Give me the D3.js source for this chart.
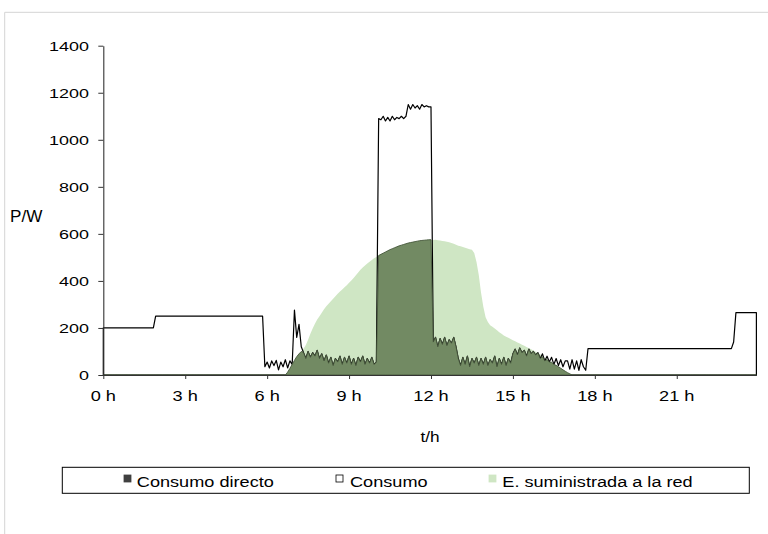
<!DOCTYPE html>
<html>
<head>
<meta charset="utf-8">
<script src="https://cdn.jsdelivr.net/npm/d3@7"></script>
<style>
  body { margin: 0; background: #fff; }
  svg { display: block; font-family: "Liberation Sans", Arial, sans-serif; }
</style>
</head>
<body>
<div id="chart"></div>
<script>
// 5-minute readings, one row per hour (12 values each)
const consumo = [
  200,200,200,200,200,200,200,200,200,200,200,200,
  200,200,200,200,200,200,200,200,200,200,200,250,
  250,250,250,250,250,250,250,250,250,250,250,250,
  250,250,250,250,250,250,250,250,250,250,250,250,
  250,250,250,250,250,250,250,250,250,250,250,250,
  250,250,250,250,250,250,250,250,250,250,250,35,
  55,30,60,40,62,22,55,35,65,30,60,45,
  276,160,215,120,95,70,100,75,95,80,105,70,
  90,60,85,50,75,40,70,55,80,45,75,50,
  80,45,70,40,75,55,80,45,70,50,75,45,
  55,1090,1085,1100,1080,1095,1080,1100,1085,1095,1090,1100,
  1090,1100,1150,1130,1150,1135,1145,1130,1150,1140,1145,1140,
  1140,140,160,120,155,130,160,125,150,135,160,120,
  70,40,75,45,80,35,70,50,75,40,70,45,
  75,40,65,50,80,35,70,45,75,40,70,50,
  90,110,85,115,95,105,80,110,90,100,85,95,
  70,90,60,80,55,75,45,70,40,65,35,60,
  60,25,65,25,60,20,65,35,20,112,112,112,
  112,112,112,112,112,112,112,112,112,112,112,112,
  112,112,112,112,112,112,112,112,112,112,112,112,
  112,112,112,112,112,112,112,112,112,112,112,112,
  112,112,112,112,112,112,112,112,112,112,112,112,
  112,112,112,112,112,112,112,112,112,112,112,112,
  112,140,265,265,265,265,265,265,265,265,265,265
];

const consumoDirecto = [
  0,0,0,0,0,0,0,0,0,0,0,0,
  0,0,0,0,0,0,0,0,0,0,0,0,
  0,0,0,0,0,0,0,0,0,0,0,0,
  0,0,0,0,0,0,0,0,0,0,0,0,
  0,0,0,0,0,0,0,0,0,0,0,0,
  0,0,0,0,0,0,0,0,0,0,0,0,
  0,0,0,0,0,0,0,0,0,12,28,45,
  62,78,90,100,95,70,100,75,95,80,105,70,
  90,60,85,50,75,40,70,55,80,45,75,50,
  80,45,70,40,75,55,80,45,70,50,75,45,
  55,508,513,518,523,528,533,537,541,545,549,552,
  555,558,561,563,565,567,569,571,572,573,574,575,
  575,140,160,120,155,130,160,125,150,135,160,120,
  70,40,75,45,80,35,70,50,75,40,70,45,
  75,40,65,50,80,35,70,45,75,40,70,50,
  90,110,85,115,95,105,80,110,90,100,85,94,
  70,78,60,66,55,54,45,41,35,29,22,16,
  10,5,0,0,0,0,0,0,0,0,0,0,
  0,0,0,0,0,0,0,0,0,0,0,0,
  0,0,0,0,0,0,0,0,0,0,0,0,
  0,0,0,0,0,0,0,0,0,0,0,0,
  0,0,0,0,0,0,0,0,0,0,0,0,
  0,0,0,0,0,0,0,0,0,0,0,0,
  0,0,0,0,0,0,0,0,0,0,0,0
];

const suministradaRed = [
  0,0,0,0,0,0,0,0,0,0,0,0,
  0,0,0,0,0,0,0,0,0,0,0,0,
  0,0,0,0,0,0,0,0,0,0,0,0,
  0,0,0,0,0,0,0,0,0,0,0,0,
  0,0,0,0,0,0,0,0,0,0,0,0,
  0,0,0,0,0,0,0,0,0,0,0,0,
  0,0,0,0,0,0,0,0,0,12,28,45,
  62,78,90,100,112,128,150,175,198,218,236,250,
  265,280,292,303,314,324,335,345,355,364,373,382,
  392,402,412,424,436,447,457,466,474,482,489,496,
  502,508,513,518,523,528,533,537,541,545,549,552,
  555,558,561,563,565,567,569,571,572,573,574,575,
  575,574,575,573,572,570,569,567,564,561,558,554,
  550,547,544,541,538,535,532,519,480,425,350,290,
  245,225,212,205,198,190,182,175,168,163,158,153,
  148,143,138,134,129,124,119,114,109,104,99,94,
  88,78,72,66,60,54,47,41,35,29,22,16,
  10,5,0,0,0,0,0,0,0,0,0,0,
  0,0,0,0,0,0,0,0,0,0,0,0,
  0,0,0,0,0,0,0,0,0,0,0,0,
  0,0,0,0,0,0,0,0,0,0,0,0,
  0,0,0,0,0,0,0,0,0,0,0,0,
  0,0,0,0,0,0,0,0,0,0,0,0,
  0,0,0,0,0,0,0,0,0,0,0,0
];

const xTicks = [0, 3, 6, 9, 12, 15, 18, 21];
const yTicks = [0, 200, 400, 600, 800, 1000, 1200, 1400];
const legendNames = ["Consumo directo", "Consumo", "E. suministrada a la red"];

// time of each reading in hours (5 min steps)
const hours = consumo.map((d, i) => i / 12);

const W = 768, H = 534;
const plot = { left: 103.3, right: 756.4, top: 45.7, bottom: 375 };

const svg = d3.select("#chart").append("svg")
  .attr("width", W)
  .attr("height", H);

// light grey frame of the chart object
svg.append("path")
  .attr("d", "M4.7,534V12.3H768")
  .attr("fill", "none")
  .attr("stroke", "#d4d4d4")
  .attr("stroke-width", 1);

const x = d3.scaleLinear().domain([0, hours[hours.length - 1]]).range([plot.left, plot.right]);
const y = d3.scaleLinear().domain([0, 1400]).range([plot.bottom, plot.top]);

// text helper: the original labels are stretched sideways
function label(parent, txt, px, py, size, sx, anchor) {
  return parent.append("text")
    .attr("transform", "translate(" + px + "," + py + ") scale(" + sx + ",1)")
    .attr("font-size", size)
    .attr("text-anchor", anchor || "start")
    .attr("fill", "#000")
    .text(txt);
}

const area = (vals) => d3.area()
  .x((d, i) => x(hours[i]))
  .y0(y(0))
  .y1((d) => y(d))(vals);

// E. suministrada a la red
svg.append("path")
  .attr("d", area(suministradaRed))
  .attr("fill", "#cfe6c4");

// Consumo (area without fill, black outline)
svg.append("path")
  .attr("d", area(consumo))
  .attr("fill", "none")
  .attr("stroke", "#000")
  .attr("stroke-width", 1.2)
  .attr("stroke-linejoin", "round");

// Consumo directo
svg.append("path")
  .attr("d", area(consumoDirecto))
  .attr("fill", "#728a63")
  .attr("stroke", "#46573c")
  .attr("stroke-width", 0.9)
  .attr("stroke-linejoin", "round");

// axes
const gy = svg.append("g")
  .attr("transform", "translate(" + plot.left + ",0)")
  .call(d3.axisLeft(y).tickValues(yTicks).tickSize(5).tickSizeOuter(0).tickFormat(""));
const gx = svg.append("g")
  .attr("transform", "translate(0," + plot.bottom + ")")
  .call(d3.axisBottom(x).tickValues(xTicks).tickSize(4).tickSizeOuter(0).tickFormat(""));
[gy, gx].forEach((g) => {
  g.select(".domain").attr("stroke", "#333").attr("stroke-width", 1.1);
  g.selectAll(".tick line").attr("stroke", "#333");
});

yTicks.forEach((v) => label(svg, v, 89, y(v) + 4.8, 13.5, 1.33, "end"));
xTicks.forEach((v) => label(svg, v + " h", x(v), 401, 14, 1.3, "middle"));

label(svg, "P/W", 10, 221.5, 16, 1.07);
label(svg, "t/h", 430, 441.5, 15, 1.15, "middle");

// legend
const lg = svg.append("g");
lg.append("rect")
  .attr("x", 62.3).attr("y", 467.3)
  .attr("width", 687).attr("height", 26)
  .attr("fill", "#fff").attr("stroke", "#000").attr("stroke-width", 1);

const legendItems = [
  { name: legendNames[0], sq: 124, tx: 136.8, fill: "#404040", stroke: "#404040" },
  { name: legendNames[1], sq: 336, tx: 350, fill: "#fff", stroke: "#000" },
  { name: legendNames[2], sq: 489, tx: 502.3, fill: "#cfe6c4", stroke: "#cfe6c4" }
];
legendItems.forEach((d) => {
  lg.append("rect")
    .attr("x", d.sq).attr("y", 475)
    .attr("width", 7).attr("height", 7)
    .attr("fill", d.fill).attr("stroke", d.stroke).attr("stroke-width", 0.8);
  label(lg, d.name, d.tx, 486.5, 15.5, 1.17);
});
</script>
</body>
</html>
